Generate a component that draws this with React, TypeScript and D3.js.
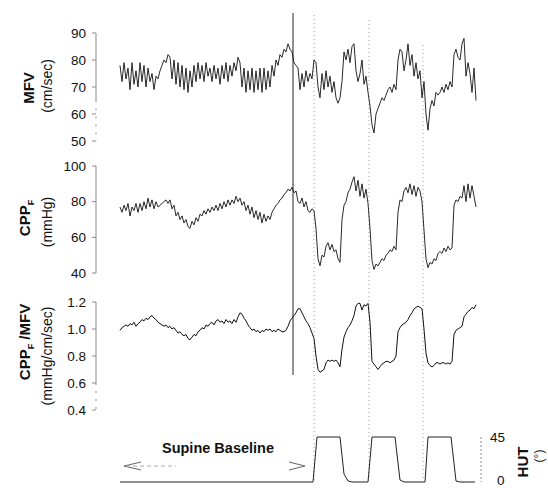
import React from "react";
import * as d3 from "d3";

// samples, one every 2 px of the original trace
const mfv = [
  78, 72, 79, 73, 77, 69, 79, 71, 76, 70,
  79, 72, 78, 70, 77, 72, 75, 69, 74, 73,
  76, 78, 80, 79, 82, 81, 73, 80, 71, 79,
  70, 78, 69, 77, 68, 76, 70, 78, 72, 79,
  73, 78, 72, 79, 74, 77, 72, 78, 73, 77,
  71, 78, 73, 79, 72, 78, 74, 79, 76, 81,
  79, 70, 77, 68, 76, 69, 77, 68, 76, 69,
  77, 68, 77, 69, 76, 70, 78, 74, 80, 78,
  82, 81, 84, 83, 86, 84, 83, 79, 78, 77,
  69, 75, 70, 76, 72, 75, 73, 80, 79, 70,
  66, 75, 69, 76, 70, 74, 68, 72, 66, 64,
  66, 72, 83, 80, 84, 79, 85, 86, 76, 72,
  75, 80, 71, 74, 68, 63, 56, 53, 60, 62,
  64, 66, 65, 67, 69, 70, 68, 71, 69, 80,
  84, 83, 76, 80, 86, 78, 82, 74, 79, 73,
  76, 66, 72, 60, 54, 62, 65, 63, 68, 67,
  68, 70, 68, 71, 69, 72, 70, 82, 84, 81,
  80, 86, 88, 74, 79, 75, 68, 77, 65,
];

const cppf = [
  77, 74, 78, 75, 79, 72, 77, 75, 79, 74,
  79, 75, 80, 76, 82, 77, 81, 76, 80, 77,
  78, 79, 80, 81, 79, 81, 76, 78, 72, 74,
  70, 72, 68, 70, 66, 65, 69, 67, 71, 69,
  73, 72, 75, 73, 76, 74, 77, 75, 78, 75,
  79, 76, 80, 77, 81, 78, 81, 79, 83, 80,
  82, 78, 80, 75, 78, 73, 77, 71, 75, 70,
  74, 68, 73, 69, 72, 70, 74, 76, 78, 79,
  81, 82, 84, 85, 87, 86, 88, 85, 86, 80,
  79, 82, 77, 80, 75, 74, 76, 75, 65, 48,
  44, 50, 49, 55, 57, 53, 56, 52, 53, 48,
  46, 70, 78, 80, 85, 87, 91, 94, 86, 92,
  83, 90, 82, 87, 79, 65, 47, 42, 45, 44,
  46, 48, 47, 50, 51, 53, 52, 55, 53, 74,
  81, 80, 86, 88, 85, 90, 84, 89, 83, 88,
  86, 80, 64, 48, 43, 46, 45, 48, 47, 51,
  52, 51, 54, 52, 55, 53, 54, 78, 81, 80,
  83, 82, 89, 80, 90, 82, 89, 83, 77,
];

const ratio = [
  0.99, 1.01, 1.02, 1.03, 1.02, 1.04, 1.03, 1.05, 1.02, 1.04,
  1.05, 1.07, 1.06, 1.08, 1.07, 1.09, 1.10, 1.08, 1.07, 1.05,
  1.04, 1.03, 1.02, 1.03, 1.01, 1.02, 1.00, 1.01, 0.99, 0.97,
  0.98, 0.96, 0.95, 0.96, 0.93, 0.92, 0.94, 0.96, 0.95, 0.98,
  0.99, 1.01, 1.00, 1.03, 1.02, 1.04, 1.05, 1.03, 1.06, 1.07,
  1.05, 1.06, 1.04, 1.07, 1.05, 1.06, 1.04, 1.07, 1.05, 1.09,
  1.12, 1.11, 1.08, 1.06, 1.03, 1.01, 0.99, 1.00, 0.98, 0.99,
  0.97, 0.99, 0.98, 1.00, 0.99, 1.00, 0.98, 0.99, 0.98, 1.00,
  0.99, 0.98, 0.98, 0.99, 1.02, 1.06, 1.08, 1.10, 1.12, 1.15,
  1.15, 1.12, 1.09, 1.06, 1.04, 1.01, 0.97, 0.93, 0.80, 0.70,
  0.68, 0.69, 0.70, 0.75, 0.77, 0.76, 0.77, 0.76, 0.77, 0.75,
  0.72, 0.85, 0.94, 0.98, 1.01, 1.03, 1.06, 1.10, 1.17, 1.19,
  1.19, 1.14, 1.18, 1.17, 1.19, 1.05, 0.76, 0.74, 0.72, 0.70,
  0.72, 0.74, 0.75, 0.76, 0.76, 0.75, 0.76, 0.77, 0.80, 0.98,
  1.01, 1.03, 1.04, 1.05, 1.07, 1.10, 1.12, 1.15, 1.16, 1.17,
  1.16, 1.15, 1.00, 0.82, 0.75, 0.73, 0.72, 0.73, 0.75, 0.75,
  0.74, 0.75, 0.75, 0.74, 0.75, 0.74, 0.76, 0.96, 0.99, 1.00,
  1.01, 1.02, 1.09, 1.11, 1.13, 1.14, 1.16, 1.15, 1.18,
];

// head-up tilt angle, as sample index / degrees pairs
const hutTime = [0, 96.5, 98.5, 110, 112, 114, 116, 124, 126, 137.5, 140, 142, 152.5, 154, 165.5, 168, 170, 177.5];
const hutDeg = [0, 0, 45, 45, 8, 1, 0, 0, 45, 45, 2, 0, 0, 45, 45, 1, 0, 0];

const mfvTicks = [50, 60, 70, 80, 90];
const cppfTicks = [40, 60, 80, 100];
const ratioTicks = [0.4, 0.6, 0.8, 1.0, 1.2];
const hutTicks = [0, 45];

const solidMarker = 86.5;
const dottedMarkers = [97, 124.5, 151.5];

const font = "'Liberation Sans', Arial, sans-serif";
const axisColor = "#8a8a8a";

const x = d3.scaleLinear().domain([0, mfv.length - 1]).range([120, 476]);
const yMfv = d3.scaleLinear().domain([50, 90]).range([141, 33]);
const yCpp = d3.scaleLinear().domain([40, 100]).range([273, 166]);
const yRatio = d3.scaleLinear().domain([0.4, 1.2]).range([410, 302]);
const yHut = d3.scaleLinear().domain([0, 45]).range([482, 437]);

const trace = (vals: number[], y: d3.ScaleLinear<number, number>) =>
  d3.line<number>().x((_, i) => x(i)).y((d) => y(d))(vals) || "";

function LeftAxis({ y, ticks, fmt, solidTo }: { y: d3.ScaleLinear<number, number>; ticks: number[]; fmt: (v: number) => string; solidTo: number }) {
  const [lo, hi] = y.domain();
  return (
    <g>
      <line x1={96} x2={96} y1={y(hi)} y2={y(solidTo)} stroke={axisColor} />
      {solidTo > lo && (
        <line x1={96} x2={96} y1={y(solidTo)} y2={y(lo)} stroke={axisColor} strokeDasharray="2,6" />
      )}
      {ticks.map((t) => (
        <g key={t}>
          <line x1={92} x2={96} y1={y(t)} y2={y(t)} stroke={axisColor} />
          <text x={86} y={y(t)} dy="0.35em" textAnchor="end" fontSize={13.5} fontFamily={font} fill="#111">
            {fmt(t)}
          </text>
        </g>
      ))}
    </g>
  );
}

export default function App() {
  const hutLine = d3
    .line<number>()
    .x((d) => x(d))
    .y((_, i) => yHut(hutDeg[i]))(hutTime) || "";

  return (
    <svg width={548} height={488} style={{ position: "absolute", left: 0, top: 0, background: "#fff" }}>
      {/* event markers */}
      {dottedMarkers.map((t, i) => (
        <line key={t} x1={x(t)} x2={x(t)} y1={[15, 20, 45][i]} y2={480} stroke="#a0a0a0" strokeDasharray="1,3" />
      ))}
      <line x1={x(solidMarker)} x2={x(solidMarker)} y1={13} y2={375} stroke="#222" />

      <LeftAxis y={yMfv} ticks={mfvTicks} fmt={(v) => String(v)} solidTo={65} />
      <LeftAxis y={yCpp} ticks={cppfTicks} fmt={(v) => String(v)} solidTo={40} />
      <LeftAxis y={yRatio} ticks={ratioTicks} fmt={(v) => v.toFixed(1)} solidTo={0.6} />

      <path d={trace(mfv, yMfv)} fill="none" stroke="#111" strokeWidth={0.9} />
      <path d={trace(cppf, yCpp)} fill="none" stroke="#111" strokeWidth={0.9} />
      <path d={trace(ratio, yRatio)} fill="none" stroke="#111" strokeWidth={1} />
      <path d={hutLine} fill="none" stroke="#222" strokeWidth={1} />

      {/* HUT axis on the right */}
      <line x1={481} x2={481} y1={yHut(45)} y2={yHut(0)} stroke={axisColor} strokeDasharray="2,2" />
      {hutTicks.map((t) => (
        <text key={t} x={t === 0 ? 497 : 490} y={t === 0 ? 480 : yHut(t)} dy="0.35em" fontSize={13.5} fontFamily={font} fill="#111">
          {t}
        </text>
      ))}

      {/* y labels */}
      <g fontFamily={font} fill="#111">
        <text transform="translate(34,88) rotate(-90)" textAnchor="middle" fontSize={15} fontWeight="bold">MFV</text>
        <text transform="translate(52,86) rotate(-90)" textAnchor="middle" fontSize={14}>(cm/sec)</text>
        <text transform="translate(30,218) rotate(-90)" textAnchor="middle" fontSize={15} fontWeight="bold">
          CPP<tspan fontSize={9} dy={4}>F</tspan>
        </text>
        <text transform="translate(52,222) rotate(-90)" textAnchor="middle" fontSize={14}>(mmHg)</text>
        <text transform="translate(30,342) rotate(-90)" textAnchor="middle" fontSize={15} fontWeight="bold">
          CPP<tspan fontSize={9} dy={4}>F</tspan><tspan dy={-4}> /MFV</tspan>
        </text>
        <text transform="translate(52,356) rotate(-90)" textAnchor="middle" fontSize={14}>(mmHg/cm/sec)</text>
        <text transform="translate(528,462) rotate(-90)" textAnchor="middle" fontSize={15} fontWeight="bold">HUT</text>
        <text transform="translate(543,456) rotate(-90)" textAnchor="middle" fontSize={12}>(°)</text>
      </g>

      {/* supine baseline annotation */}
      <text x={218} y={453} textAnchor="middle" fontSize={14.5} fontWeight="bold" fontFamily={font} fill="#111">
        Supine Baseline
      </text>
      <polyline points="141,462 124,466 141,470" fill="none" stroke="#666" />
      <line x1={126} x2={176} y1={466} y2={466} stroke="#aaa" strokeDasharray="4,3" />
      <polyline points="289,462 305,466 289,470" fill="none" stroke="#666" />
    </svg>
  );
}
